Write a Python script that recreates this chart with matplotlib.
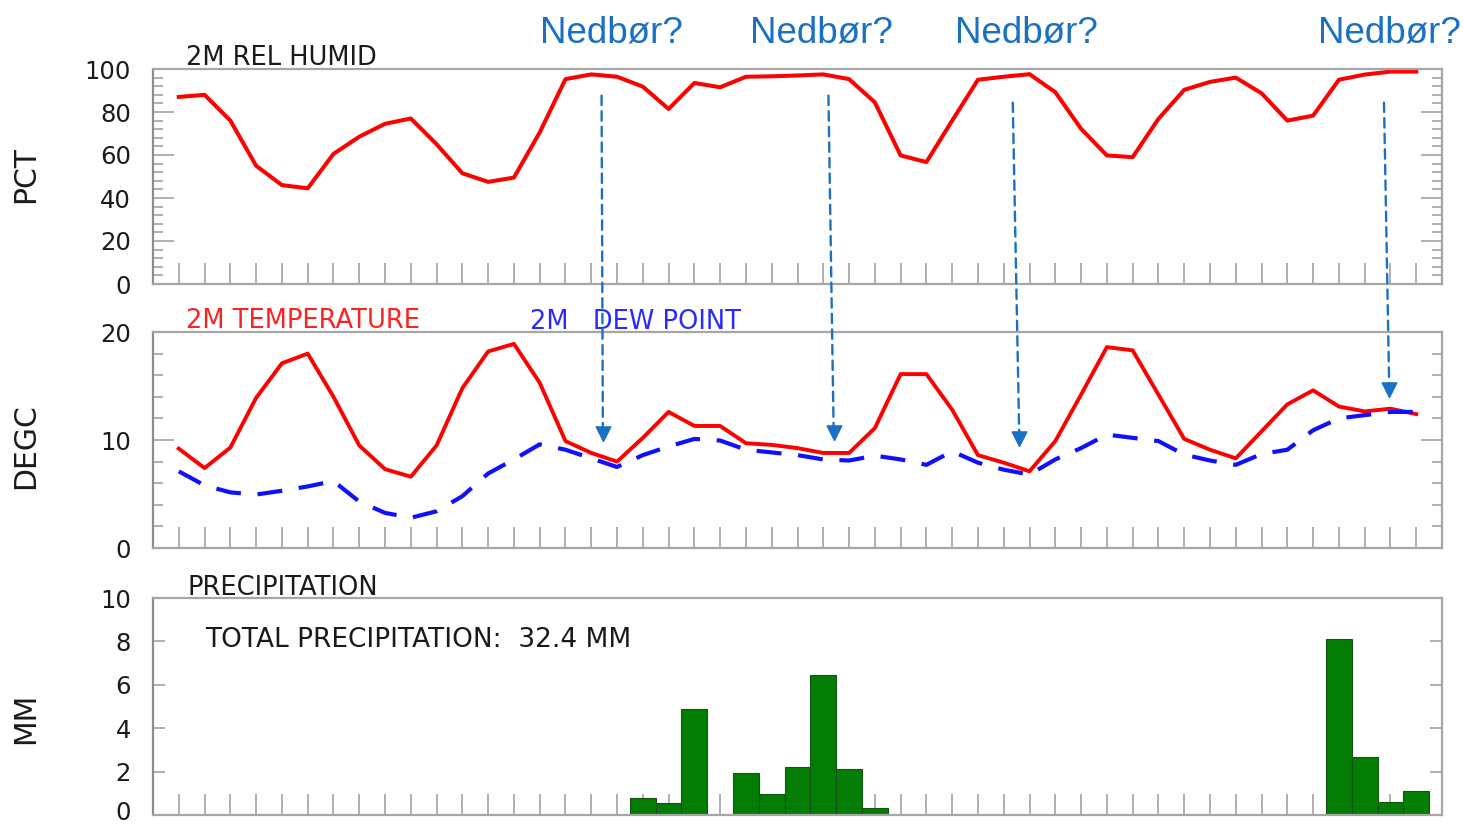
import matplotlib
matplotlib.use("Agg")
import matplotlib.pyplot as plt
import numpy as np
from matplotlib.patches import ConnectionPatch
from matplotlib.path import Path
from matplotlib.transforms import blended_transform_factory

# ---------------- data ----------------
steps = list(range(49))
rel_humid = [87, 88, 76, 55, 46, 44.5, 60.5, 68.5, 74.5, 77, 65, 51.5, 47.5, 49.5,
             70.5, 95.3, 97.5, 96.4, 91.8, 81.4, 93.5, 91.5, 96.4, 96.6, 97, 97.5,
             95.3, 84.5, 59.8, 56.7, 76, 95, 96.4, 97.6, 89.2, 72.2, 59.8, 59, 76.8,
             90.3, 94, 96, 88.7, 76, 78.3, 95, 97.4, 98.8, 98.8]
temperature = [9.2, 7.4, 9.3, 13.9, 17.1, 18.0, 14.0, 9.5, 7.3, 6.6, 9.5, 14.8, 18.2,
               18.9, 15.3, 9.9, 8.8, 8.0, 10.2, 12.6, 11.3, 11.3, 9.7, 9.55, 9.25, 8.8,
               8.8, 11.1, 16.1, 16.1, 12.8, 8.6, 7.9, 7.1, 9.9, 14.2, 18.6, 18.3, 14.2,
               10.1, 9.1, 8.3, 10.8, 13.3, 14.6, 13.1, 12.65, 12.9, 12.4]
dew_point = [7.1, 5.8, 5.15, 4.95, 5.3, 5.7, 6.2, 4.3, 3.25, 2.8, 3.4, 4.8, 6.9, 8.2,
             9.6, 9.1, 8.3, 7.5, 8.6, 9.4, 10.1, 9.95, 9.1, 8.85, 8.6, 8.2, 8.1, 8.55,
             8.2, 7.7, 8.95, 7.9, 7.25, 6.8, 8.2, 9.25, 10.5, 10.2, 9.9, 8.65, 8.1, 7.7,
             8.7, 9.1, 10.9, 12.0, 12.3, 12.6, 12.6]
precip = [0, 0, 0, 0, 0, 0, 0, 0, 0, 0, 0, 0, 0, 0, 0, 0, 0, 0,
          0.77, 0.54, 4.88, 0, 1.92, 0.95, 2.23, 6.46, 2.12, 0.34,
          0, 0, 0, 0, 0, 0, 0, 0, 0, 0, 0, 0, 0, 0, 0, 0, 0,
          8.1, 2.65, 0.58, 1.12]
total_precip = 32.4

# annotation arrows ("Nedbør?")
arrow_x_top = [16.4, 25.2, 32.35, 46.75]
arrow_y_top = [87.6, 87.6, 84.4, 84.4]      # in PCT units (top panel)
arrow_x_tip = [16.45, 25.4, 32.6, 46.95]
arrow_y_tip = [9.9, 10.0, 9.4, 14.0]        # in DEGC units (middle panel)
label_x = [16.78, 24.93, 32.89, 46.95]
note_text = "Nedbør?"

# ---------------- layout ----------------
W, H = 1463, 826
fig = plt.figure(figsize=(W / 100, H / 100), dpi=100)
plt.rcParams['font.family'] = ['DejaVu Sans']

LEFT, RIGHT = 153, 1442


def px_axes(top, bottom):
    return fig.add_axes([LEFT / W, 1 - bottom / H, (RIGHT - LEFT) / W, (bottom - top) / H])


ax1 = px_axes(69, 284)
ax2 = px_axes(332, 548)
ax3 = px_axes(598, 815)

spine_col = '#a6a6a6'
tick_col = '#9a9a9a'
txt_col = '#1a1a1a'
TFS = 17.5
HFS = 18.5
PAD = 16


def style(ax):
    ax.set_xlim(-1, 49)
    for s in ax.spines.values():
        s.set_color(spine_col)
        s.set_linewidth(1.6)
    ax.spines['left'].set_color('#8c8c8c')
    ax.set_xticks(steps)
    ax.set_xticklabels([])
    ax.tick_params(axis='x', direction='in', length=15, width=1.1, color=tick_col,
                   bottom=True, top=False)
    ax.tick_params(axis='y', which='major', direction='in', length=15, width=1.1,
                   color=tick_col, left=True, right=True, labelsize=TFS,
                   labelcolor=txt_col, pad=PAD)
    ax.tick_params(axis='y', which='minor', direction='in', length=7.5, width=1.1,
                   color=tick_col, left=True, right=True, labelsize=TFS,
                   labelcolor=txt_col, pad=PAD)


# --- Relative humidity ---
style(ax1)
ax1.set_ylim(0, 100)
ax1.set_yticks([0, 20, 40, 60, 80, 100])
ax1.set_yticks([v for v in range(0, 101, 4) if v % 20], minor=True)
ax1.plot(steps, rel_humid, color='#ff0000', lw=2.9)
ax1.text((186 - LEFT) / (RIGHT - LEFT), 1 + 4 / 215, '2M REL HUMID', transform=ax1.transAxes,
         fontsize=HFS, color=txt_col, va='baseline', ha='left')

# --- Temperature / dew point ---
style(ax2)
ax2.set_ylim(0, 20)
ax2.set_yticks([0, 10, 20])
ax2.set_yticks([v for v in range(0, 21, 2) if v % 10], minor=True)
ax2.plot(steps, temperature, color='#ff0000', lw=2.8)
ax2.plot(steps, dew_point, color='#1010ff', lw=3.0, dashes=(6, 4))
ax2.text((186 - LEFT) / (RIGHT - LEFT), 1 + 4 / 216, '2M TEMPERATURE', transform=ax2.transAxes,
         fontsize=HFS, color='#ff2020', va='baseline', ha='left')
ax2.text((530 - LEFT) / (RIGHT - LEFT), 1 + 3 / 216, '2M   DEW POINT', transform=ax2.transAxes,
         fontsize=HFS, color='#2a2aff', va='baseline', ha='left')

# --- Precipitation ---
style(ax3)
ax3.set_ylim(0, 10)
ax3.set_yticks([0, 10], labels=['', '10'])
ax3.set_yticks([2, 4, 6, 8], labels=['2', '4', '6', '8'], minor=True)
ax3.tick_params(axis='y', which='minor', length=8.5)
ax3.set_axisbelow(True)
# the "0" label sits at the very bottom edge; lift it a few pixels so it stays inside
ax3.text(-(PAD * 100 / 72) / (RIGHT - LEFT), 4 / 217, '0', transform=ax3.transAxes,
         ha='right', va='center_baseline', fontsize=TFS, color=txt_col)
px = [s for s, p in zip(steps, precip) if p > 0]
pv = [p for p in precip if p > 0]
ax3.bar(px, pv, width=1.0, color='#037d03', edgecolor='#145214', linewidth=0.8, zorder=2)
ax3.text((188 - LEFT) / (RIGHT - LEFT), 1 + 3 / 217, 'PRECIPITATION', transform=ax3.transAxes,
         fontsize=HFS, color=txt_col, va='baseline', ha='left')
ax3.text((205 - LEFT) / (RIGHT - LEFT), (815 - 647) / 217,
         f'TOTAL PRECIPITATION:  {total_precip} MM', transform=ax3.transAxes,
         fontsize=HFS + 0.5, color=txt_col, va='baseline', ha='left')

# y axis titles
for label, yc in [('PCT', 175), ('DEGC', 446), ('MM', 718)]:
    fig.text(26 / W, 1 - yc / H, label, rotation=90, ha='center', va='center',
             fontsize=21.5, color=txt_col)

# ---------------- annotations ----------------
note_col = '#1a70c2'
head = Path([(-0.5, 1.0), (0.5, 1.0), (0.0, 0.0), (-0.5, 1.0)],
            [Path.MOVETO, Path.LINETO, Path.LINETO, Path.CLOSEPOLY])
head_h = 14.5 / 10.8  # head height in DEGC units
for xt, yt, xb, yb in zip(arrow_x_top, arrow_y_top, arrow_x_tip, arrow_y_tip):
    con = ConnectionPatch(xyA=(xt, yt), coordsA=ax1.transData,
                          xyB=(xb, yb + head_h * 0.9), coordsB=ax2.transData,
                          color=note_col, lw=1.7, linestyle=(0, (4, 2.6)), zorder=10)
    fig.add_artist(con)
    ax2.plot([xb], [yb], marker=head, markersize=21, color=note_col, mec=note_col,
             clip_on=False, zorder=11, linestyle='none')

trans = blended_transform_factory(ax1.transData, ax1.transAxes)
for xl in label_x:
    ax1.text(xl, (284 - 42) / 215, note_text, transform=trans, ha='center', va='baseline',
             fontsize=26.5, color=note_col, family=['Liberation Sans', 'DejaVu Sans'],
             clip_on=False)

fig.savefig('out.png', dpi=100)
